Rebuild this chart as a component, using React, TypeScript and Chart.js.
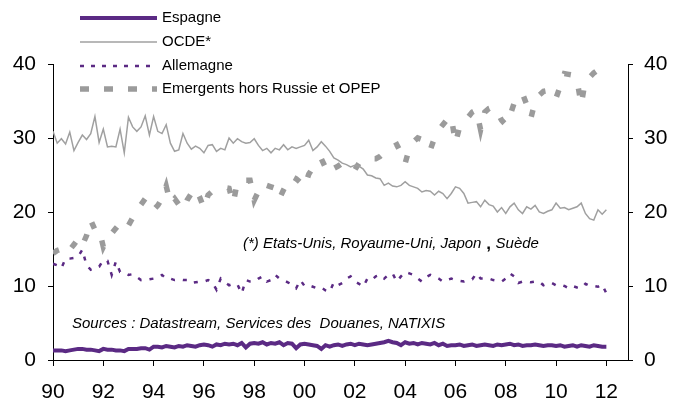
import { useEffect, useRef } from 'react';
import { Chart, registerables } from 'chart.js';

Chart.register(...registerables);

// Bi-monthly observations, Jan 1990 .. Jan 2012
const START_YEAR = 1990;
const STEPS_PER_YEAR = 6;

const xTickValues = [1990, 1992, 1994, 1996, 1998, 2000, 2002, 2004, 2006, 2008, 2010, 2012];
const xTickLabels = ['90', '92', '94', '96', '98', '00', '02', '04', '06', '08', '10', '12'];
const yTickValues = [0, 10, 20, 30, 40];

const seriesNames = ['Espagne', 'OCDE*', 'Allemagne', 'Emergents hors Russie et OPEP'];

const espagne = [
  1.3, 1.3, 1.3, 1.2, 1.3, 1.4,
  1.5, 1.5, 1.4, 1.4, 1.3, 1.2,
  1.5, 1.4, 1.4, 1.3, 1.3, 1.2,
  1.5, 1.5, 1.5, 1.6, 1.6, 1.4,
  1.8, 1.8, 1.7, 1.9, 1.8, 1.7,
  1.9, 1.8, 2.0, 1.9, 1.8, 2.0,
  2.1, 2.0, 1.8, 2.1, 2.0, 2.2,
  2.1, 2.2, 2.0, 2.3, 1.7, 2.2,
  2.3, 2.2, 2.4, 2.1, 2.3, 2.2,
  2.4, 2.0, 2.3, 2.2, 1.6, 2.1,
  2.2, 2.1, 2.0, 1.9, 1.5, 2.0,
  1.8, 2.0, 2.1, 1.9, 2.1, 2.2,
  2.0, 2.2, 2.1, 2.0, 2.1, 2.2,
  2.3, 2.4, 2.6, 2.4, 2.3, 2.0,
  2.4, 2.2, 2.3, 2.1, 2.3, 2.2,
  2.1, 2.3, 2.0, 2.2, 1.9, 2.0,
  2.0, 2.1, 1.9, 2.0, 2.1, 1.9,
  2.0, 2.1, 2.0, 1.9, 2.1, 2.0,
  2.1, 2.2, 2.0, 2.1, 1.9, 2.0,
  2.0, 2.1, 2.0, 1.9, 2.0, 2.0,
  1.9, 2.0, 1.8, 1.9, 2.0, 1.8,
  2.0, 1.9, 1.8, 2.0, 1.9, 1.8,
  1.8,
];

const ocde = [
  30.9, 29.3, 29.9, 29.2, 30.8, 28.3,
  29.4, 30.4, 29.8, 30.6, 32.9, 29.4,
  31.2, 28.8, 28.9, 28.8, 31.2, 28.0,
  32.8, 31.5, 30.9, 31.5, 33.0, 30.4,
  32.9, 30.9, 30.6, 31.8, 29.3, 28.2,
  28.4, 30.6, 29.3, 28.5, 28.9, 28.6,
  28.0, 29.0, 29.1, 28.2, 28.6, 28.4,
  30.0, 29.3, 29.9, 29.5, 29.3, 29.4,
  29.9, 29.0, 28.3, 28.6, 28.0, 28.6,
  28.4, 29.1, 28.4, 28.8, 28.6, 28.8,
  29.0, 29.7, 28.3, 28.8, 29.5, 28.9,
  28.2, 27.3, 27.0, 26.6, 26.4, 26.1,
  26.3, 26.2, 25.8, 25.0, 24.9, 24.6,
  24.5, 23.6, 23.9, 23.5, 23.4, 23.6,
  24.1, 23.6, 23.4, 23.2, 22.7, 22.9,
  22.8, 22.3, 22.8, 22.5, 21.8, 22.5,
  23.4, 23.2, 22.5, 21.2, 21.3, 21.4,
  20.7, 21.6, 21.0, 20.8, 20.0, 20.6,
  19.8, 20.7, 21.2, 20.3, 19.8, 20.7,
  20.4, 20.9, 20.0, 19.8, 20.1, 20.3,
  21.2, 20.5, 20.6, 20.3, 20.5, 20.7,
  21.2, 19.8, 19.1, 18.9, 20.3, 19.7,
  20.3,
];

const allemagne = [
  13.0, 12.8, 12.4, 13.7, 13.7, 13.8,
  14.0, 14.9, 12.8, 12.2, 12.5, 12.6,
  13.5, 13.4, 11.5, 13.3, 11.9, 11.8,
  11.5, 11.6, 11.2, 10.8, 10.9, 10.9,
  11.0, 11.2, 11.5, 11.0, 11.0, 10.8,
  10.9, 10.8, 10.8, 10.4, 10.5, 10.6,
  10.6, 10.8, 10.5, 9.5, 11.0, 10.5,
  10.1, 10.3, 10.2, 9.0, 10.8, 10.6,
  10.6, 11.0, 11.3, 10.6, 10.8, 11.5,
  11.0, 10.8, 10.5, 10.2, 9.7, 10.8,
  10.0, 10.1, 9.9, 9.7, 9.8, 9.4,
  9.2, 10.5, 10.1, 10.4, 11.0, 11.3,
  10.6, 10.3, 9.9, 11.0, 10.8, 11.3,
  11.5, 11.0, 11.5, 11.7, 10.6, 11.3,
  11.9, 11.7, 11.5, 11.0, 10.6, 11.2,
  11.5, 11.3, 11.0, 10.6, 10.8, 11.0,
  10.8, 10.7, 10.6, 10.8, 10.9, 11.7,
  11.0, 11.0, 11.0, 10.8, 10.7, 10.6,
  11.0, 11.7, 11.3, 10.4, 10.6, 10.6,
  10.5, 10.6, 10.6, 10.1, 10.3, 10.4,
  10.1, 10.2, 10.0, 9.7, 10.0, 9.8,
  9.7, 10.3, 10.0, 10.0, 9.9, 10.2,
  9.0,
];

const emergents = [
  14.4, 14.8, 15.0, 15.5, 14.9, 15.6,
  16.4, 15.5, 16.8, 18.9, 17.6, 17.7,
  15.3, 16.5, 17.1, 17.8, 18.5, 18.9,
  18.2, 19.2, 20.3, 21.0, 21.8, 20.8,
  20.3, 20.9, 21.8, 23.5, 21.2, 21.8,
  21.0, 20.3, 21.6, 22.5, 23.2, 22.0,
  20.5, 22.3, 22.8, 23.0, 23.2, 23.3,
  23.2, 21.2, 24.1, 24.2, 24.3, 24.3,
  21.6, 22.8, 23.9, 23.6, 23.4, 23.2,
  21.8, 23.0, 24.0, 24.8, 24.5, 24.0,
  23.4, 25.1, 26.0, 26.8, 27.2, 26.0,
  25.2, 25.9, 26.2, 26.6, 26.2, 25.9,
  25.7, 26.6, 26.9, 27.2, 27.2, 27.2,
  27.5, 28.0, 28.5, 28.8, 29.1, 28.0,
  26.6, 28.6, 29.5, 30.0, 29.8, 29.5,
  28.4, 30.0, 31.1, 31.8, 32.5, 32.9,
  29.3, 31.5, 32.0, 32.8, 33.5, 33.8,
  31.1, 33.5, 34.0, 34.2, 33.5, 32.4,
  31.8, 33.0, 34.7, 35.2, 36.0, 34.5,
  32.7, 34.9, 35.8, 36.3, 36.4, 36.5,
  35.4, 37.0, 38.7, 38.6, 38.5, 37.8,
  34.5, 37.8, 38.2, 38.8, 39.2, 39.6,
  40.0,
];

const noteText = ['(*) Etats-Unis, Royaume-Uni, Japon', ' , ', 'Suède'];
const sourceText = 'Sources : Datastream, Services des  Douanes, NATIXIS';

const PURPLE = '#5B2A84';
const GRAY_LINE = '#A0A0A0';
const GRAY_DASH = '#9B9B9B';
const FONT = '"Liberation Sans", Arial, sans-serif';

const styles = [
  { color: PURPLE, width: 4, dash: [] as number[], legendDash: [] as number[] },
  { color: GRAY_LINE, width: 1.5, dash: [] as number[], legendDash: [] as number[] },
  { color: PURPLE, width: 2.5, dash: [4, 8], legendDash: [4, 7] },
  { color: GRAY_DASH, width: 5.5, dash: [7, 17], legendDash: [9, 15] },
];

const toPoints = (vals: number[]) =>
  vals.map((y, i) => ({ x: START_YEAR + i / STEPS_PER_YEAR, y }));

const overlayPlugin = {
  id: 'overlay',
  afterDraw(chart: any) {
    const ctx = chart.ctx as CanvasRenderingContext2D;
    ctx.save();
    const rows = [18, 42, 66, 89];
    seriesNames.forEach((name, i) => {
      const s = styles[i];
      ctx.beginPath();
      ctx.strokeStyle = s.color;
      ctx.lineWidth = s.width;
      ctx.lineCap = 'butt';
      ctx.setLineDash(s.legendDash);
      ctx.moveTo(80, rows[i]);
      ctx.lineTo(157, rows[i]);
      ctx.stroke();
      ctx.setLineDash([]);
      ctx.fillStyle = '#000';
      ctx.font = `15px ${FONT}`;
      ctx.textBaseline = 'middle';
      ctx.textAlign = 'left';
      ctx.fillText(name, 162, rows[i]);
    });
    ctx.fillStyle = '#000';
    ctx.textBaseline = 'middle';
    let x = 243;
    ctx.font = `italic 15px ${FONT}`;
    ctx.fillText(noteText[0], x, 244);
    x += ctx.measureText(noteText[0]).width;
    ctx.font = `bold 17px ${FONT}`;
    ctx.fillText(noteText[1], x, 244);
    x += ctx.measureText(noteText[1]).width;
    ctx.font = `italic 15px ${FONT}`;
    ctx.fillText(noteText[2], x, 244);
    ctx.fillText(sourceText, 72, 324);
    ctx.restore();
  },
};

export default function App() {
  const ref = useRef<HTMLCanvasElement>(null);
  useEffect(() => {
    if (!ref.current) return;
    const seriesValues = [espagne, ocde, allemagne, emergents];
    const tickFont = { family: FONT, size: 21 };
    const chart = new Chart(ref.current, {
      type: 'line',
      data: {
        datasets: seriesValues.map((vals, i) => ({
          label: seriesNames[i],
          data: toPoints(vals),
          borderColor: styles[i].color,
          backgroundColor: styles[i].color,
          borderWidth: styles[i].width,
          borderDash: styles[i].dash,
          borderCapStyle: 'butt' as const,
          borderJoinStyle: 'miter' as const,
          pointRadius: 0,
          tension: 0,
          fill: false,
        })),
      },
      options: {
        animation: false,
        responsive: false,
        maintainAspectRatio: false,
        layout: { padding: { top: 64, left: 0, right: 0, bottom: 0 } },
        plugins: { legend: { display: false }, tooltip: { enabled: false } },
        scales: {
          x: {
            type: 'linear',
            position: 'bottom',
            min: 1990,
            max: 2012.86,
            grid: { display: true, drawOnChartArea: false, drawTicks: true, tickLength: 6, color: '#000', tickColor: '#000' },
            border: { display: true, color: '#000', width: 1 },
            ticks: {
              stepSize: 2,
              includeBounds: false,
              autoSkip: false,
              maxRotation: 0,
              padding: 14,
              color: '#000',
              font: tickFont,
              callback: (v: any) => {
                const idx = xTickValues.indexOf(Math.round(Number(v)));
                return idx >= 0 ? xTickLabels[idx] : '';
              },
            },
            afterFit: (s: any) => { s.height = 43; },
          },
          y: {
            position: 'left',
            min: 0,
            max: 40,
            grid: { display: true, drawOnChartArea: false, tickLength: 5, color: '#000', tickColor: '#000' },
            border: { display: true, color: '#000', width: 1 },
            ticks: {
              stepSize: 10,
              padding: 12,
              color: '#000',
              font: tickFont,
              callback: (v: any) => (yTickValues.includes(Number(v)) ? String(v) : ''),
            },
            afterFit: (s: any) => { s.width = 53; },
          },
          y2: {
            position: 'right',
            min: 0,
            max: 40,
            grid: { display: true, drawOnChartArea: false, tickLength: 5, color: '#000', tickColor: '#000' },
            border: { display: true, color: '#000', width: 1 },
            ticks: {
              stepSize: 10,
              padding: 11,
              color: '#000',
              font: tickFont,
              callback: (v: any) => (yTickValues.includes(Number(v)) ? String(v) : ''),
            },
            afterFit: (s: any) => { s.width = 56; },
          },
        },
      },
      plugins: [overlayPlugin],
    });
    return () => chart.destroy();
  }, []);
  return (
    <div style={{ position: 'absolute', left: 0, top: 0, width: 684, height: 403, background: '#fff' }}>
      <canvas ref={ref} width={684} height={403} style={{ display: 'block', width: 684, height: 403 }} />
    </div>
  );
}
